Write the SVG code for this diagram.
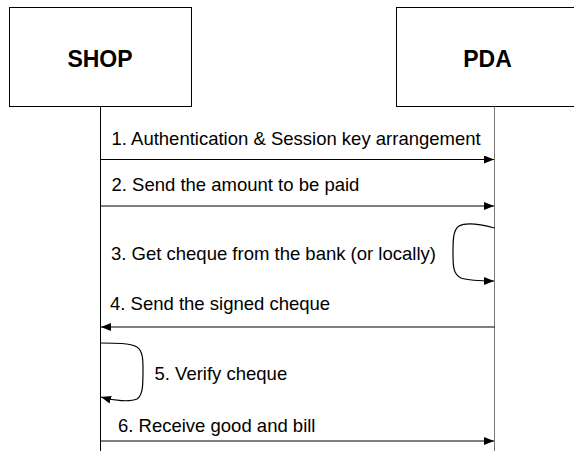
<svg xmlns="http://www.w3.org/2000/svg" width="574" height="451" viewBox="0 0 574 451">
<style>
.box{fill:#fff;stroke:#000;stroke-width:1}
.title{font-family:"Liberation Sans",Arial,sans-serif;font-size:23px;font-weight:bold;fill:#000;text-anchor:middle}
.lbl{font-family:"Liberation Sans",Arial,sans-serif;font-size:18.5px;fill:#000}
.life{stroke:#000;stroke-width:1;fill:none}
.msg{stroke:#000;stroke-width:1.2;fill:none;marker-end:url(#ah)}
</style>
<defs>
<marker id="ah" viewBox="0 0 10 8" refX="10" refY="4" markerWidth="10" markerHeight="8" markerUnits="userSpaceOnUse" orient="auto">
<path d="M0,0 L10,4 L0,8 Z" fill="#000"/>
</marker>
</defs>
<rect width="574" height="451" fill="#fff"/>
<g id="shop">
<rect class="box" x="9.5" y="7.5" width="182" height="99"/>
<text class="title" x="100" y="67">SHOP</text>
</g>
<g id="pda">
<rect class="box" x="396.5" y="7.5" width="183" height="99"/>
<text class="title" x="487.5" y="67">PDA</text>
</g>
<g id="connectors">
<line class="life" x1="100.5" y1="106.5" x2="100.5" y2="451"/>
<line class="life" x1="494.5" y1="106.5" x2="494.5" y2="451" stroke="#777" style="stroke:#777"/>
<line class="msg" x1="100.5" y1="159.5" x2="494" y2="159.5"/>
<line class="msg" x1="100.5" y1="206" x2="494" y2="206"/>
<path class="msg" d="M494.5,228 C480,224 466,222 459,226 C453,230 453,240 453,253 C453,266 453,274 461,278 C470,281 482,281 494,281"/>
<line class="msg" x1="494.5" y1="327" x2="101" y2="327"/>
<path class="msg" d="M100.5,343 C115,343 130,343 137,347 C143,351 143,360 143,370 C143,385 143,395 137,399 C130,402 115,401 101,397"/>
<line class="msg" x1="100.5" y1="441" x2="494" y2="441"/>
</g>
<g id="labels">
<text class="lbl" x="111.5" y="145">1. Authentication &amp; Session key arrangement</text>
<text class="lbl" x="111.5" y="191">2. Send the amount to be paid</text>
<text class="lbl" x="111" y="260">3. Get cheque from the bank (or locally)</text>
<text class="lbl" x="110" y="310">4. Send the signed cheque</text>
<text class="lbl" x="154.5" y="380">5. Verify cheque</text>
<text class="lbl" x="118" y="432">6. Receive good and bill</text>
</g>
</svg>
